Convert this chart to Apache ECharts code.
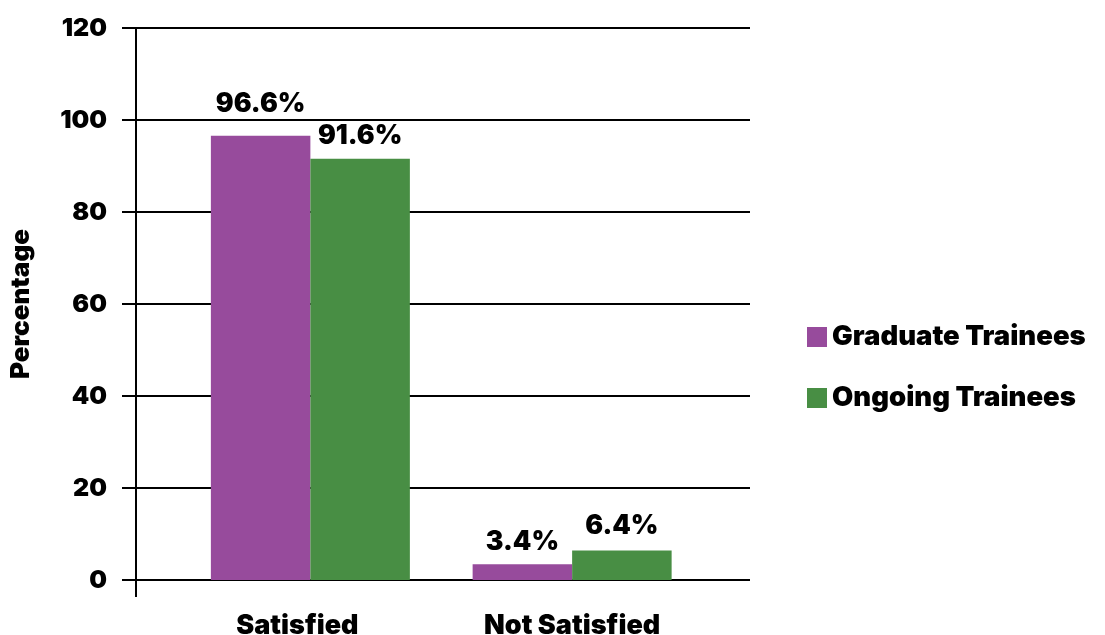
<!DOCTYPE html>
<html>
<head>
<meta charset="utf-8">
<title>Trainee Satisfaction</title>
<script src="https://cdn.jsdelivr.net/npm/echarts@6/dist/echarts.min.js"></script>
<style>
  html, body { margin: 0; padding: 0; background: #ffffff; }
  #chart { width: 1105px; height: 635px; }
</style>
</head>
<body>
<div id="chart"></div>
<script>
// Survey results: share of trainees satisfied / not satisfied
const categories = ['Satisfied', 'Not Satisfied'];
const seriesNames = ['Graduate Trainees', 'Ongoing Trainees'];
const graduateValues = [96.6, 3.4];
const ongoingValues = [91.6, 6.4];
const yTicks = { min: 0, max: 120, interval: 20 };

const PURPLE = '#974B9C';
const GREEN = '#488E44';

// Heavy black text used throughout the chart
function heavy(size, extra) {
  return Object.assign({
    fontFamily: 'Inter, "DejaVu Sans", sans-serif',
    fontWeight: 900,
    fontSize: size,
    color: '#000000'
  }, extra || {});
}

// Plot frame (axis + gridlines) and the narrower band holding the bars
const frame = { left: 136, right: 355, top: 28, bottom: 55 };
const barBand = { left: 179.5, right: 402, top: 28, bottom: 55 };

const chart = echarts.init(document.getElementById('chart'), null, { renderer: 'canvas' });

function labelled(values, extraDistance) {
  return values.map((v, i) => ({
    value: v,
    label: { distance: extraDistance[i] }
  }));
}

const option = {
  backgroundColor: '#ffffff',
  animation: false,
  grid: [
    { left: frame.left, right: frame.right, top: frame.top, bottom: frame.bottom,
      containLabel: false, outerBoundsMode: 'none' },
    { left: barBand.left, right: barBand.right, top: barBand.top, bottom: barBand.bottom,
      containLabel: false, outerBoundsMode: 'none' }
  ],
  legend: {
    orient: 'vertical',
    left: 802,
    top: 317,
    itemWidth: 20,
    itemHeight: 20,
    itemGap: 31,
    icon: 'rect',
    data: seriesNames,
    textStyle: heavy(27.5, { lineHeight: 30 })
  },
  xAxis: [
    {
      gridIndex: 0,
      type: 'value',
      min: 0,
      max: 1,
      show: false
    },
    {
      gridIndex: 1,
      type: 'category',
      data: categories.map((c, i) => ({
        value: c,
        textStyle: i === 0 ? { padding: [0, 26, 0, 0] } : {}
      })),
      axisLine: { show: false },
      axisTick: { show: false },
      axisLabel: heavy(27, { margin: 32 })
    }
  ],
  yAxis: [
    {
      gridIndex: 0,
      type: 'value',
      min: yTicks.min,
      max: yTicks.max,
      interval: yTicks.interval,
      name: 'Percentage',
      nameLocation: 'middle',
      nameRotate: 90,
      nameGap: 102,
      nameTextStyle: heavy(26),
      axisLine: { show: true, lineStyle: { color: '#000000', width: 2 } },
      axisTick: { show: true, length: 14, lineStyle: { color: '#000000', width: 2 } },
      splitLine: { show: true, lineStyle: { color: '#000000', width: 2 } },
      axisLabel: heavy(25, { margin: 29 })
    },
    {
      gridIndex: 1,
      type: 'value',
      min: yTicks.min,
      max: yTicks.max,
      interval: yTicks.interval,
      show: false
    }
  ],
  // short downward continuation of the vertical axis below the baseline
  graphic: [
    {
      type: 'line',
      shape: { x1: frame.left, y1: 635 - frame.bottom, x2: frame.left, y2: 635 - frame.bottom + 17 },
      style: { stroke: '#000000', lineWidth: 2 }
    }
  ],
  series: [
    {
      name: seriesNames[0],
      type: 'bar',
      xAxisIndex: 1,
      yAxisIndex: 1,
      barWidth: 99.5,
      barGap: '0%',
      itemStyle: { color: PURPLE },
      label: heavy(26.5, {
        show: true,
        position: 'top',
        formatter: p => p.value.toFixed(1) + '%'
      }),
      data: labelled(graduateValues, [18, 9])
    },
    {
      name: seriesNames[1],
      type: 'bar',
      xAxisIndex: 1,
      yAxisIndex: 1,
      barWidth: 99.5,
      barGap: '0%',
      itemStyle: { color: GREEN },
      label: heavy(26.5, {
        show: true,
        position: 'top',
        formatter: p => p.value.toFixed(1) + '%'
      }),
      data: labelled(ongoingValues, [9, 11])
    }
  ]
};

chart.setOption(option);
</script>
</body>
</html>
